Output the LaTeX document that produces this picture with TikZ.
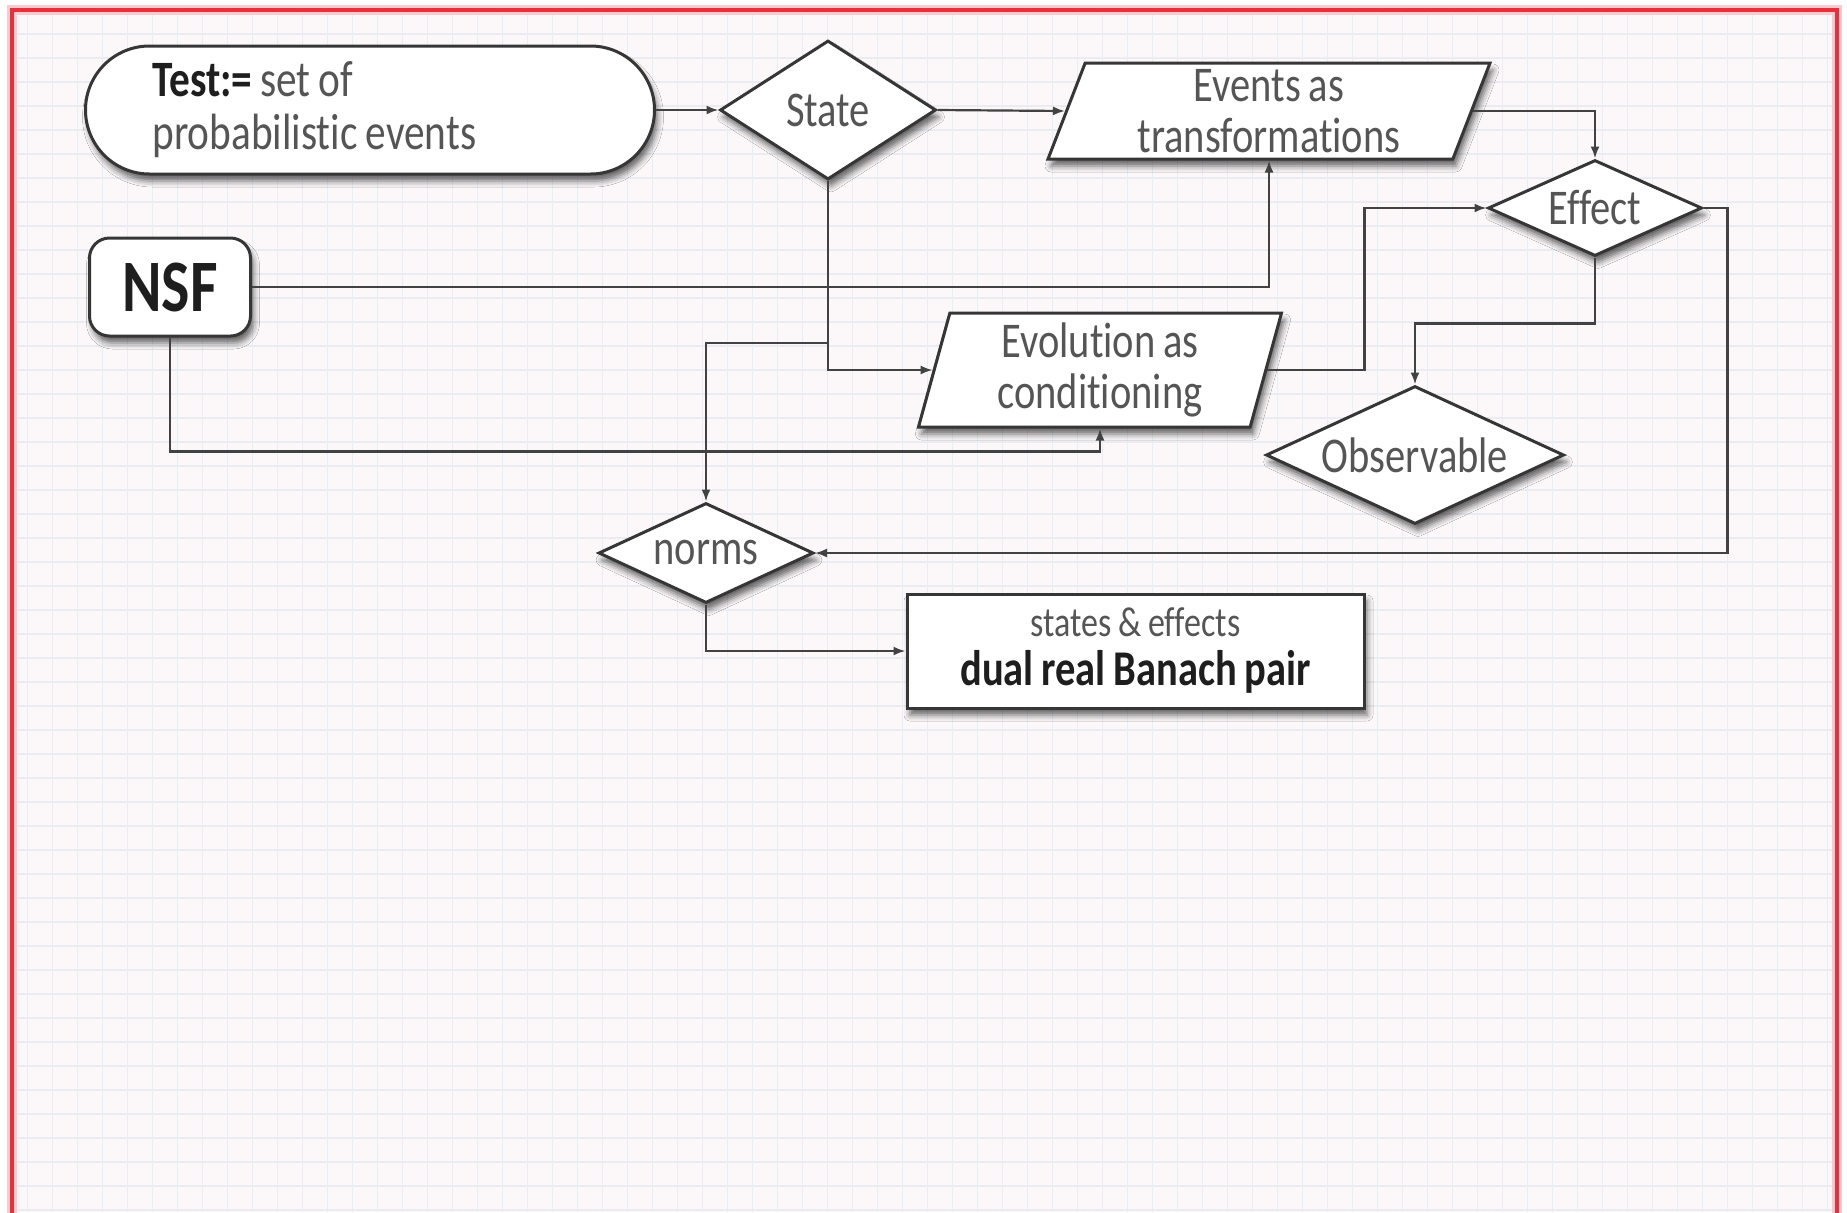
\documentclass[tikz,border=0pt]{standalone}
\usepackage{fontspec}
\setmainfont{Carlito}[FakeStretch=0.81, WordSpace=0.85, Ligatures=NoCommon]
\usetikzlibrary{shapes.geometric,arrows.meta,shadows.blur,calc}

\definecolor{framered}{HTML}{E8303C}
\definecolor{paper}{HTML}{FCF8FA}
\definecolor{hrule}{HTML}{ECEBF1}
\definecolor{vrule}{HTML}{E6EEF6}
\definecolor{ink}{HTML}{363636}
\definecolor{wire}{HTML}{424242}
\definecolor{txt}{HTML}{555555}
\definecolor{boldtxt}{HTML}{1E1E1E}

\begin{document}
\begin{tikzpicture}[x=0.5pt,y=-0.5pt,
  every node/.style={font=\fontsize{25}{25.5}\selectfont, text=txt},
  box/.style={draw=ink, line width=1.5pt, fill=white,
    blur shadow={shadow xshift=1.5pt, shadow yshift=-3.5pt,
      shadow blur radius=3pt, shadow opacity=60}},
  decision/.style={box, diamond, inner sep=0pt},
  slanted/.style={box, trapezium, trapezium stretches body, inner sep=0pt, align=center},
  link/.style={draw=wire, line width=1.1pt, -{Latex[length=6pt,width=4.5pt]}},
]
\useasboundingbox (0,0) rectangle (1847,1212);

% paper sheet with a fine grid
\fill[white] (0,0) rectangle (1847,1212);
\fill[paper] (12,10) rectangle (1837,1212);
\begin{scope}
  \clip (14,12) rectangle (1835,1212);
  \foreach \y in {10,34,...,1212}
    \draw[hrule, line width=0.6pt] (0,\y) -- (1847,\y);
  \foreach \x in {2,27,...,1847}
    \draw[vrule, line width=0.5pt] (\x,0) -- (\x,1212);
\end{scope}
% red border of the sheet
\draw[framered!25, line width=5pt] (12,1230) -- (12,10) -- (1837,10) -- (1837,1230);
\draw[framered, line width=2pt] (12,1230) -- (12,10) -- (1837,10) -- (1837,1230);

% nodes
\node[box, rounded corners=32pt, minimum width=284.5pt, minimum height=64pt,
      text width=217.5pt, inner xsep=33.5pt, align=flush left,
      font=\fontsize{25.5}{26.5}\selectfont] (test) at (370,110)
  {\textcolor{boldtxt}{\textbf{Test:=}} set of\\probabilistic events};

\node[decision, shape aspect=1.55, minimum width=108pt, minimum height=69.5pt]
  (state) at (828,110) {State};

\node[slanted, trapezium left angle=66, trapezium right angle=114,
      minimum width=221pt, minimum height=48pt] (events) at (1269,111)
  {Events as\\transformations};

\node[decision, shape aspect=2.2, minimum width=107pt, minimum height=48pt]
  (effect) at (1595,208) {Effect};

\node[box, rounded corners=10pt, minimum width=80.5pt, minimum height=49pt,
      inner sep=0pt, text=boldtxt, font=\fontsize{37}{40}\selectfont\bfseries]
  (nsf) at (170,287) {NSF};

\node[slanted, trapezium left angle=71.6, trapezium right angle=108.4,
      minimum width=181.5pt, minimum height=57pt] (evolution) at (1100,370)
  {Evolution as\\conditioning};

\node[decision, shape aspect=2.16, minimum width=149pt, minimum height=69pt]
  (observable) at (1415,455) {Observable};

\node[decision, shape aspect=2.15, minimum width=107.5pt, minimum height=50pt]
  (norms) at (706,553) {norms};

\node[box, minimum width=228.5pt, minimum height=57pt, align=center,
      font=\fontsize{25}{24.5}\selectfont] (pair) at (1135.5,651)
  {{\fontsize{21}{24.5}\selectfont states \& effects}\\
   \textcolor{boldtxt}{\textbf{dual real Banach pair}}};

% connectors
\coordinate (fork) at (828,343);
\draw[link] (test.east) -- (state.west);
\draw[link] (state.east) -- (events.west);
\draw[link] (events.east) -| (effect.north);
\draw[link] (nsf.east) -| (events.south);
\draw[link] (state.south) |- (evolution.west);
\draw[link] (fork) -| (norms.north);
\draw[link] (nsf.south) |- ([yshift=-11.5pt]evolution.south) -- (evolution.south);
\draw[link] (evolution.east) -| ([xshift=-61pt]effect.west) -- (effect.west);
\draw[link] (effect.south) -- ([yshift=-33pt]effect.south) -| (observable.north);
\draw[link] (effect.east) -- ([xshift=12pt]effect.east) |- (norms.east);
\draw[link] (norms.south) |- (pair.west);
\end{tikzpicture}
\end{document}
